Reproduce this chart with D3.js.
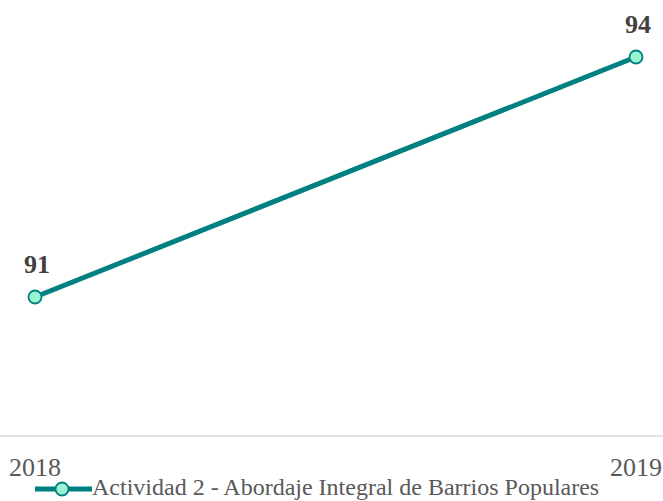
<!DOCTYPE html>
<html>
<head>
<meta charset="utf-8">
<script src="https://cdn.jsdelivr.net/npm/d3@7"></script>
<style>
  html, body { margin: 0; padding: 0; background: #fff; }
  svg { display: block; }
</style>
</head>
<body>
<svg id="chart" width="663" height="501"></svg>
<script>
// Series data
const years = ["2018", "2019"];
const values = [91, 94];
const seriesName = "Actividad 2 - Abordaje Integral de Barrios Populares";

const W = 663;
const teal = "#008080";
const markerFill = "#99f5cf";
const serif = "Liberation Serif";

const svg = d3.select("#chart");

const x = d3.scalePoint().domain(years).range([35, 636]);
const y = d3.scaleLinear().domain([89.25, 94.75]).range([437, -3]);

// Baseline axis
svg.append("line")
  .attr("x1", 0).attr("x2", W)
  .attr("y1", y(89.25) - 1).attr("y2", y(89.25) - 1)
  .attr("stroke", "#d9d9d9").attr("stroke-width", 1.5);

// Category labels
svg.selectAll("text.year")
  .data(years)
  .join("text")
  .attr("class", "year")
  .attr("x", d => x(d))
  .attr("y", 476)
  .attr("text-anchor", "middle")
  .style("font-family", serif)
  .style("font-size", "26px")
  .attr("fill", "#595959")
  .text(d => d);

const pts = years.map((d, i) => ({ year: d, value: values[i] }));

// Line
svg.append("path")
  .datum(pts)
  .attr("fill", "none")
  .attr("stroke", teal)
  .attr("stroke-width", 5)
  .attr("d", d3.line().x(d => x(d.year)).y(d => y(d.value)));

// Markers
svg.selectAll("circle.pt")
  .data(pts)
  .join("circle")
  .attr("class", "pt")
  .attr("cx", d => x(d.year))
  .attr("cy", d => y(d.value))
  .attr("r", 6.5)
  .attr("fill", markerFill)
  .attr("stroke", teal)
  .attr("stroke-width", 1.8);

// Value labels
svg.selectAll("text.val")
  .data(pts)
  .join("text")
  .attr("class", "val")
  .attr("x", d => x(d.year) + 2)
  .attr("y", d => y(d.value) - 24)
  .attr("text-anchor", "middle")
  .style("font-family", serif)
  .style("font-weight", "bold")
  .style("font-size", "26px")
  .attr("fill", "#404040")
  .text(d => d.value);

// Legend
const lg = svg.append("g").attr("transform", "translate(35,489)");
lg.append("line")
  .attr("x1", 0).attr("x2", 57).attr("y1", 0).attr("y2", 0)
  .attr("stroke", teal).attr("stroke-width", 5);
lg.append("circle")
  .attr("cx", 27).attr("cy", 0).attr("r", 6.5)
  .attr("fill", markerFill).attr("stroke", teal).attr("stroke-width", 1.8);
lg.append("text")
  .attr("x", 57).attr("y", 6)
  .style("font-family", serif)
  .style("font-size", "24px")
  .attr("fill", "#595959")
  .text(seriesName);
</script>
</body>
</html>
